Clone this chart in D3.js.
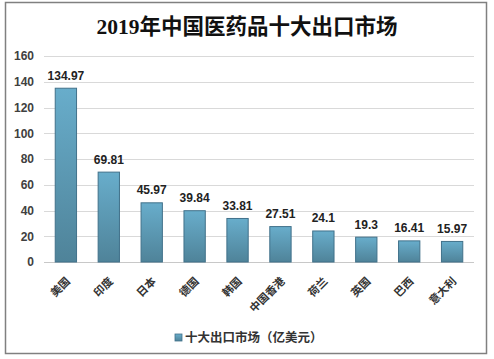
<!DOCTYPE html>
<html><head><meta charset="utf-8">
<script src="https://cdn.jsdelivr.net/npm/d3@7"></script>
<style>body{margin:0;background:#fff}</style>
</head><body>
<svg id="c" width="494" height="359"></svg>
<script>
const categories = ["美国","印度","日本","德国","韩国","中国香港","荷兰","英国","巴西","意大利"];
const values = [134.97,69.81,45.97,39.84,33.81,27.51,24.1,19.3,16.41,15.97];
const yTicks = [0,20,40,60,80,100,120,140,160];
const title = "2019年中国医药品十大出口市场";
const seriesName = "十大出口市场（亿美元）";

const svg = d3.select("#c");
svg.append("rect").attr("x",5.5).attr("y",2.5).attr("width",481).attr("height",351)
  .attr("fill","#fff").attr("stroke","#808080").attr("stroke-width",1.5);

const defs = svg.append("defs");
const g = defs.append("linearGradient").attr("id","bg").attr("x1",0).attr("y1",0).attr("x2",0).attr("y2",1);
g.append("stop").attr("offset","0%").attr("stop-color","#68adcb");
g.append("stop").attr("offset","100%").attr("stop-color","#4f8399");

const x = d3.scaleBand().domain(categories).range([44,474]).paddingInner(0.48).paddingOuter(0.25);
const y = d3.scaleLinear().domain([0,160]).range([262,56]);

svg.append("text").attr("x",247).attr("y",34).attr("text-anchor","middle")
  .attr("font-family","'Liberation Serif','Noto Sans CJK SC',serif").attr("font-weight","bold")
  .attr("font-size",21.5).attr("fill","#111").text(title);

// grid
svg.append("g").selectAll("line").data(yTicks.filter(d=>d>0)).join("line")
  .attr("x1",44).attr("x2",474).attr("y1",d=>Math.round(y(d))+0.5).attr("y2",d=>Math.round(y(d))+0.5)
  .attr("stroke","#d9d9d9").attr("stroke-width",1);
svg.append("line").attr("x1",44).attr("x2",474).attr("y1",Math.round(y(0))+0.5).attr("y2",Math.round(y(0))+0.5)
  .attr("stroke","#c8c8c8").attr("stroke-width",1);

// y labels
const yAxis = d3.axisLeft(y).tickValues(yTicks).tickSize(0).tickPadding(0);
const ya = svg.append("g").attr("transform","translate(34,0)").call(yAxis);
ya.select(".domain").remove();
ya.selectAll("text").attr("font-family","'Liberation Sans',Arial,sans-serif").attr("font-weight","bold")
  .attr("font-size",12).attr("fill","#404040");

// bars
svg.append("g").selectAll("rect").data(values).join("rect")
  .attr("x",(d,i)=>x(categories[i])+0.5).attr("width",x.bandwidth()-1)
  .attr("y",d=>y(d)).attr("height",d=>y(0)-y(d))
  .attr("fill","url(#bg)").attr("stroke","#41718a").attr("stroke-width",1);

// value labels
svg.append("g").selectAll("text").data(values).join("text")
  .attr("x",(d,i)=>x(categories[i])+x.bandwidth()/2).attr("y",d=>y(d)-8.5)
  .attr("text-anchor","middle").attr("font-family","'Liberation Sans',Arial,sans-serif")
  .attr("font-weight","bold").attr("font-size",12).attr("fill","#222").text(d=>d);

// x labels
const xAxis = d3.axisBottom(x).tickSize(0).tickPadding(0);
const xa = svg.append("g").attr("transform","translate(0,262)").call(xAxis);
xa.select(".domain").remove();
xa.selectAll("text").attr("text-anchor","end").attr("dy",null)
  .attr("transform","translate(5,20) rotate(-45)")
  .attr("font-family","'Noto Sans CJK SC',sans-serif").attr("font-weight","bold")
  .attr("font-size",11).attr("fill","#333");

// legend
svg.append("rect").attr("x",175).attr("y",334).attr("width",7).attr("height",7)
  .attr("fill","url(#bg)").attr("stroke","#41718a").attr("stroke-width",0.8);
svg.append("text").attr("x",185).attr("y",342).attr("font-family","'Noto Sans CJK SC',sans-serif")
  .attr("font-weight","bold").attr("font-size",12.5).attr("fill","#333").text(seriesName);
</script>
</body></html>
